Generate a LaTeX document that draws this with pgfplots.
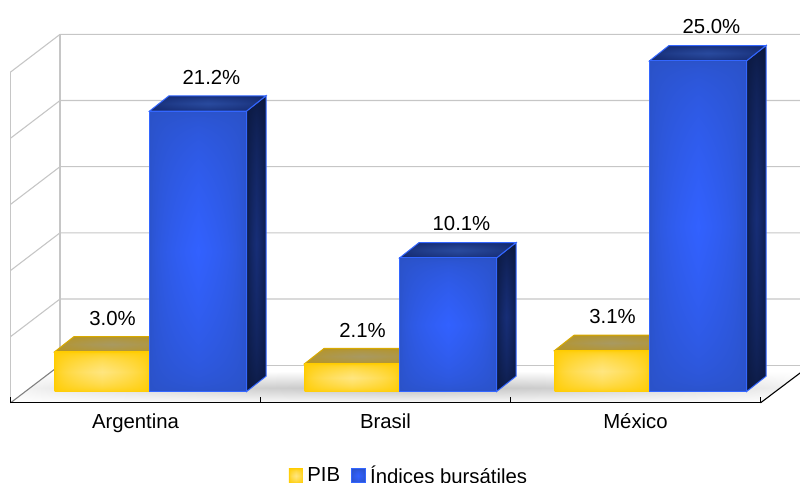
\documentclass[border=0pt]{standalone}
\usepackage{fontspec}
\setmainfont{Liberation Sans}
\usepackage{pgfplots}
\pgfplotsset{compat=1.18}
% pillow shading: colour = a + c * sqrt(s), s = (1-|dx|)(1-|dy|); path bbox maps to the central 50bp square
\newcommand{\pillow}[7]{%
\pgfdeclarefunctionalshading{#1}{\pgfpoint{0bp}{0bp}}{\pgfpoint{100bp}{100bp}}{}{%
50 sub abs 25 div 1 exch sub dup 0 lt {pop 0} if
exch
50 sub abs 25 div 1 exch sub dup 0 lt {pop 0} if
mul sqrt
dup #3 mul #2 add exch dup #5 mul #4 add exch #7 mul #6 add}}
\pillow{bluefront}{0.165}{0.03}{0.32}{0.06}{0.78}{0.22}
\pillow{blueside}{0.04}{0.05}{0.09}{0.09}{0.23}{0.24}
\pillow{bluetop}{0.07}{0.09}{0.15}{0.14}{0.42}{0.20}
\pillow{yellowfront}{1.0}{0.0}{0.80}{0.10}{0.0}{0.50}
\pillow{yellowtop}{0.72}{-0.06}{0.58}{0.02}{0.12}{0.26}
\pgfdeclarefunctionalshading{floorshade}{\pgfpoint{0bp}{0bp}}{\pgfpoint{100bp}{100bp}}{}{%
45 sub abs 22 div 1 exch sub dup 0 lt {pop 0} if
exch
50 sub abs 25 div 1 exch sub dup 0 lt {pop 0} if sqrt
mul 0.24 mul 1 exch sub dup dup}
\definecolor{bline}{HTML}{3366FF}
\definecolor{yline}{HTML}{FFC800}
\definecolor{wall}{HTML}{C6C6C6}
\pgfplotsset{
  face/.style={forget plot,no markers,shade,shading=#1,shading angle=0},
  bluef/.style={face=#1,draw=bline,line width=1bp},
  yelf/.style={face=yellowtop,draw=yline!85!black,line width=1bp},
  gridl/.style={forget plot,no markers,draw=wall,line width=1.1bp},
  vallabels/.style={
    nodes near coords={\pgfmathprintnumber[fixed,fixed zerofill,precision=1,assume math mode=true]{\pgfplotspointmeta}\%},
    nodes near coords style={font=\fontsize{20.4}{24}\selectfont,text=black,xshift=#1,yshift=23bp},
  },
  pibbar/.style={ybar,bar width=0.38,bar shift=-0.134,shade,shading=yellowfront,draw=none,vallabels=-23bp},
  indbar/.style={ybar,bar width=0.388,bar shift=0.25,shade,shading=bluefront,draw=bline,line width=1bp,vallabels=76bp},
}
\begin{document}
\begin{tikzpicture}
\begin{axis}[
  x=250bp,y=13.23bp,
  xmin=0,xmax=3,ymin=-0.85,ymax=28,
  clip=false,
  axis on top,
  axis y line=none,
  axis x line=bottom,
  axis line style={-,black,line width=1.1bp},
  xtick={0.5,1.5,2.5},
  xticklabels={Argentina,Brasil,México},
  minor xtick={0,1,2,3},
  tick align=inside,
  major tick length=0pt,
  minor tick length=6bp,
  tick style={black,line width=0.8bp},
  x tick label style={font=\fontsize{20.4}{24}\selectfont,yshift=-7bp},
  legend columns=-1,
  legend style={at={(axis cs:1.594,-6.36)},anchor=center,draw=none,fill=none,
    font=\fontsize{20.4}{24}\selectfont,inner sep=0pt,
    /tikz/every odd column/.append style={column sep=2.5bp},
    /tikz/every even column/.append style={column sep=8.5bp}},
]
% floor
\addplot[face=floorshade,draw=none] coordinates {(0,-0.85)(3,-0.85)(3.2,2)(0.2,2)} --cycle;
% back wall and grid
\addplot[gridl,line width=2bp] coordinates {(0.198,2)(0.198,27)};
\addplot[gridl] coordinates {(0,-0.85)(0,24.15)};
\addplot[gridl,draw=gray] coordinates {(0,-0.85)(0.198,2)};
\addplot[gridl] coordinates {(0.198,2)(3.2,2)};
\addplot[gridl] coordinates {(0,4.15)(0.198,7)(3.2,7)};
\addplot[gridl] coordinates {(0,9.15)(0.198,12)(3.2,12)};
\addplot[gridl] coordinates {(0,14.15)(0.198,17)(3.2,17)};
\addplot[gridl] coordinates {(0,19.15)(0.198,22)(3.2,22)};
\addplot[gridl] coordinates {(0,24.15)(0.198,27)(3.2,27)};
\addplot[forget plot,no markers,draw=black,line width=1.1bp] coordinates {(3,-0.85)(3.2,2)};
% yellow top faces
\addplot[yelf] coordinates {(0.176,3.0)(0.556,3.0)(0.634,4.16)(0.254,4.16)} --cycle;
\addplot[yelf] coordinates {(1.176,2.1)(1.556,2.1)(1.634,3.26)(1.254,3.26)} --cycle;
\addplot[yelf] coordinates {(2.176,3.1)(2.556,3.1)(2.634,4.26)(2.254,4.26)} --cycle;
% PIB
\addplot[pibbar,legend image code/.code={\path[shade,shading=yellowfront] (0bp,-7bp) rectangle (14bp,7bp);}]
  coordinates {(0.5,3.0)};
\addlegendentry{PIB}
\addplot[pibbar,forget plot] coordinates {(1.5,2.1)};
\addplot[pibbar,forget plot] coordinates {(2.5,3.1)};
% blue sides and tops
\addplot[bluef=blueside] coordinates {(0.944,0)(1.022,1.16)(1.022,22.36)(0.944,21.2)} --cycle;
\addplot[bluef=bluetop] coordinates {(0.556,21.2)(0.944,21.2)(1.022,22.36)(0.634,22.36)} --cycle;
\addplot[bluef=blueside] coordinates {(1.944,0)(2.022,1.16)(2.022,11.26)(1.944,10.1)} --cycle;
\addplot[bluef=bluetop] coordinates {(1.556,10.1)(1.944,10.1)(2.022,11.26)(1.634,11.26)} --cycle;
\addplot[bluef=blueside] coordinates {(2.944,0)(3.022,1.16)(3.022,26.16)(2.944,25.0)} --cycle;
\addplot[bluef=bluetop] coordinates {(2.556,25.0)(2.944,25.0)(3.022,26.16)(2.634,26.16)} --cycle;
% Indices
\addplot[indbar,legend image code/.code={\path[shade,shading=bluefront] (0bp,-7bp) rectangle (14bp,7bp);}]
  coordinates {(0.5,21.2)};
\addlegendentry{Índices bursátiles}
\addplot[indbar,forget plot] coordinates {(1.5,10.1)};
\addplot[indbar,forget plot] coordinates {(2.5,25.0)};
\coordinate (ll) at (axis cs:-0.042,-6.9);
\coordinate (ur) at (axis cs:3.158,29.6);
\end{axis}
\pgfresetboundingbox
\path[use as bounding box] (ll) rectangle (ur);
\end{tikzpicture}
\end{document}
